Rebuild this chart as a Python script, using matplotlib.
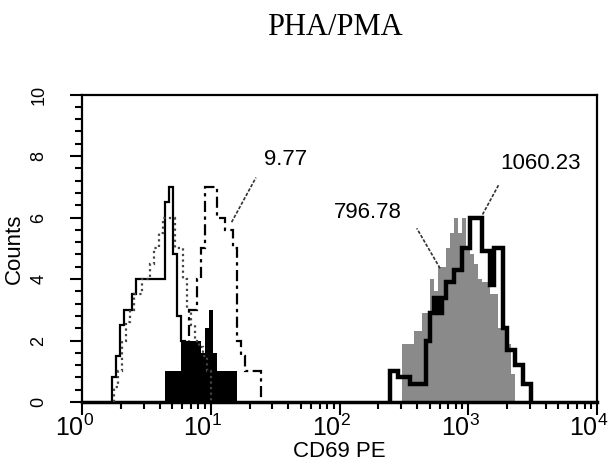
import matplotlib
matplotlib.use("Agg")
import matplotlib.pyplot as plt
import matplotlib.transforms as mtransforms
import numpy as np
from matplotlib import font_manager
from matplotlib.ticker import MultipleLocator, LogLocator

# histogram data: counts per bin (bin = 2 channels, 64 channels per decade)
# *_start = first channel of each histogram
solid_start = 15
solid_counts = [0.8, 1.5, 2.5, 3.0, 3.0, 3.5, 4.0, 4.0, 4.0, 4.0, 4.0, 4.0,
                4.0, 6.5, 7.0, 4.8, 2.8, 2.0, 1.0]

dotted_start = 16
dotted_counts = [0.5, 1.0, 2.0, 2.6, 3.0, 3.5, 3.5, 4.0, 4.0, 4.5, 5.0, 5.5,
                 6.0, 6.0, 6.0, 5.0, 5.0, 4.0, 3.0, 2.5, 2.0, 1.8, 1.5, 1.0]

dashdot_start = 51
dashdot_counts = [1.0, 3.0, 3.0, 4.0, 5.0, 7.0, 7.0, 7.0, 6.0, 6.0, 5.6, 5.6,
                  5.0, 2.0, 1.5, 1.0, 1.0, 1.0, 1.0]

black_start = 41
black_counts = [1.0, 1.0, 1.0, 1.0, 2.0, 2.0, 2.0, 2.0, 2.0, 1.6, 2.4, 3.0,
                1.6, 1.0, 1.0, 1.0, 1.0, 1.0]

gray_start = 159
gray_counts = [1.9, 1.9, 1.9, 2.3, 2.3, 2.9, 2.9, 4.0, 3.6, 4.4, 4.4, 5.0,
               5.5, 6.0, 5.5, 6.0, 5.0, 4.8, 4.5, 4.0, 3.9, 3.9, 3.5, 3.5,
               2.4, 2.4, 1.9, 0.9]

thick_start = 153
thick_counts = [1.0, 1.0, 0.8, 0.8, 0.8, 0.6, 0.6, 0.6, 0.6, 2.0, 2.9, 3.4,
                2.9, 3.4, 3.9, 3.9, 4.3, 4.3, 5.0, 5.0, 6.0, 6.0, 6.0, 4.9,
                4.9, 3.8, 5.0, 5.0, 2.4, 1.7, 1.7, 1.2, 1.2, 0.6, 0.6]

# annotations: label, text position, leader line ends
labels = ["9.77", "796.78", "1060.23"]
label_xy = [(25.7, 7.9), (89.8, 6.15), (1778, 7.75)]
leader_from = [(14.5, 5.85), (603, 4.35), (1290, 6.1)]
leader_to = [(22.4, 7.3), (398, 5.65), (1740, 7.1)]

x_ticks = [1, 10, 100, 1000, 10000]


def edges(start, counts):
    ch = start + 2 * np.arange(len(counts) + 1)
    return 10 ** (ch / 64.0)


names = {f.name for f in font_manager.fontManager.ttflist}
sans = "Liberation Sans Narrow" if "Liberation Sans Narrow" in names else "Liberation Sans"
plt.rcParams["font.family"] = [sans, "DejaVu Sans"]
plt.rcParams["mathtext.fontset"] = "custom"
plt.rcParams["mathtext.rm"] = sans
plt.rcParams["mathtext.it"] = sans
plt.rcParams["mathtext.bf"] = sans

fig = plt.figure(figsize=(6.08, 4.73), dpi=100)
ax = fig.add_axes([0.135, 0.150, 0.847, 0.650])

ax.stairs(gray_counts, edges(gray_start, gray_counts), fill=True,
          color="#8a8a8a", zorder=1)
ax.stairs(black_counts, edges(black_start, black_counts), fill=True,
          color="black", zorder=2)
ax.stairs(solid_counts, edges(solid_start, solid_counts), color="black",
          lw=1.6, zorder=3)
ax.stairs(dotted_counts, edges(dotted_start, dotted_counts), color="#444444",
          lw=1.6, linestyle=(0, (1, 1.5)), zorder=3)
ax.stairs(dashdot_counts, edges(dashdot_start, dashdot_counts), color="black",
          lw=1.6, linestyle=(0, (5, 2, 1.5, 2)), zorder=3)
ax.stairs(thick_counts, edges(thick_start, thick_counts), color="black",
          lw=3.2, zorder=4)

for lab, xy, p0, p1 in zip(labels, label_xy, leader_from, leader_to):
    ax.plot([p0[0], p1[0]], [p0[1], p1[1]], color="#333333", lw=1.2,
            linestyle=(0, (2, 1)), zorder=5)
    ax.text(xy[0], xy[1], lab, fontsize=16, ha="left", va="center", zorder=6)

ax.set_xscale("log")
ax.set_xlim(1, 1e4)
ax.set_ylim(0, 10)
ax.set_xticks(x_ticks)
ax.set_xticklabels([r"$10^{%d}$" % int(np.log10(t)) for t in x_ticks])
ax.xaxis.set_minor_locator(LogLocator(base=10, subs=np.arange(2, 10), numticks=20))
ax.yaxis.set_major_locator(MultipleLocator(2))
ax.yaxis.set_minor_locator(MultipleLocator(0.4))

ax.tick_params(axis="x", which="major", direction="out", length=9, width=1.5,
               labelsize=18, pad=0)
ax.tick_params(axis="x", which="minor", direction="out", length=5, width=1.5)
ax.tick_params(axis="y", which="major", direction="out", length=9, width=1.5,
               labelsize=13, pad=16, labelrotation=90)
ax.tick_params(axis="y", which="minor", direction="out", length=5, width=1.5)
for lbl in ax.get_yticklabels():
    lbl.set_va("center")

# shift the x tick labels so the "10" sits left of the tick
shift = mtransforms.ScaledTranslation(-8 / 100, 0, fig.dpi_scale_trans)
for lbl in ax.get_xticklabels():
    lbl.set_transform(lbl.get_transform() + shift)

for s in ax.spines.values():
    s.set_linewidth(1.6)
ax.spines["bottom"].set_linewidth(2.5)

ax.set_xlabel("CD69 PE", fontsize=16, labelpad=0)
ax.set_ylabel("Counts", fontsize=16, labelpad=4)

fig.text(0.551, 0.941, "PHA/PMA", fontsize=22, family="Liberation Serif",
         ha="center", va="center")

fig.savefig("out.png", dpi=100)
